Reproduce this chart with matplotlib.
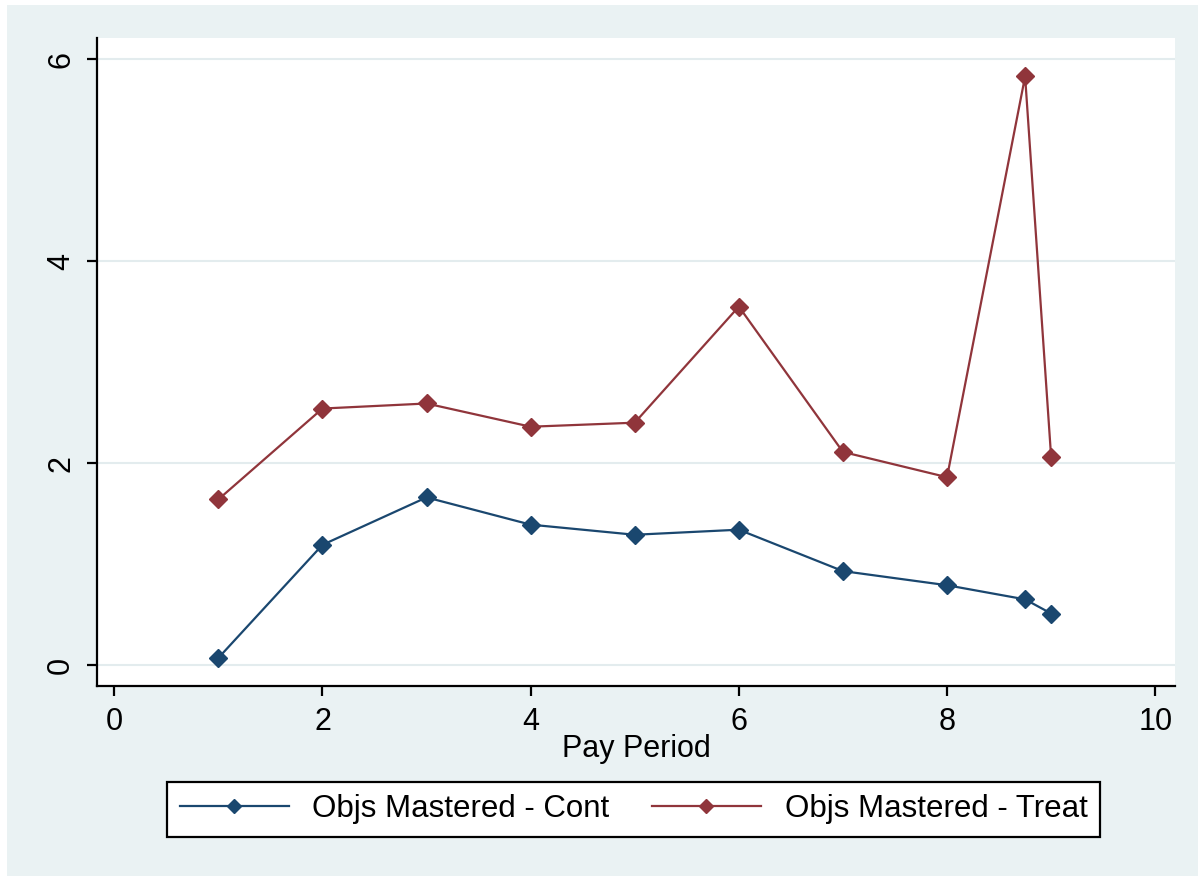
import matplotlib
matplotlib.use("Agg")
import matplotlib.pyplot as plt
from matplotlib.patches import Rectangle

# Data: objectives mastered per pay period
pay_period = [1, 2, 3, 4, 5, 6, 7, 8, 8.75, 9]
cont = [0.07, 1.19, 1.66, 1.39, 1.29, 1.34, 0.93, 0.79, 0.65, 0.51]
treat = [1.64, 2.54, 2.59, 2.36, 2.40, 3.55, 2.11, 1.86, 5.83, 2.06]

series_labels = ["Objs Mastered - Cont", "Objs Mastered - Treat"]
x_ticks = [0, 2, 4, 6, 8, 10]
y_ticks = [0, 2, 4, 6]
x_label = "Pay Period"

BG = "#EAF2F3"
NAVY = "#1A476F"
MAROON = "#90353B"

plt.rcParams["font.family"] = ["Liberation Sans", "DejaVu Sans"]

W, H = 1198, 876
fig = plt.figure(figsize=(W / 100, H / 100), dpi=100, facecolor="white")
fig.patches.append(Rectangle((7 / W, 0), 1 - 7 / W, 1 - 5 / H,
                             transform=fig.transFigure, facecolor=BG,
                             edgecolor="none", zorder=-10))

ax = fig.add_axes([97 / W, (H - 686) / H, (1175 - 97) / W, (686 - 38) / H])
ax.set_facecolor("white")

ax.plot(pay_period, cont, color=NAVY, lw=1.6, marker="D", markersize=8.8,
        markeredgecolor=NAVY, label=series_labels[0], zorder=3)
ax.plot(pay_period, treat, color=MAROON, lw=1.6, marker="D", markersize=8.8,
        markeredgecolor=MAROON, label=series_labels[1], zorder=3)

ax.set_xlim(-0.166, 10.19)
ax.set_ylim(-0.208, 6.21)
ax.set_xticks(x_ticks)
ax.set_yticks(y_ticks)
ax.yaxis.grid(True, color="#E3ECEE", lw=1.5)
ax.set_axisbelow(True)

for s in ["top", "right"]:
    ax.spines[s].set_visible(False)
for s in ["left", "bottom"]:
    ax.spines[s].set_linewidth(1.6)
    ax.spines[s].set_color("black")

ax.tick_params(axis="both", direction="out", length=7, width=1.6,
               labelsize=22, colors="black", pad=8)
for lab in ax.get_yticklabels():
    lab.set_rotation(90)
    lab.set_va("center")

ax.set_xlabel(x_label, fontsize=22, labelpad=-2)

leg = fig.legend(loc="center", bbox_to_anchor=(633.5 / W, 1 - 809 / H),
                 ncol=2, fontsize=22.5, frameon=True, fancybox=False,
                 framealpha=1, edgecolor="black", handlelength=3.5,
                 handletextpad=0.75, columnspacing=1.35, borderpad=0.4,
                 markerscale=0.85)
leg.get_frame().set_linewidth(1.6)
leg.get_frame().set_facecolor("white")

fig.savefig("out.png", dpi=100, facecolor=fig.get_facecolor())
